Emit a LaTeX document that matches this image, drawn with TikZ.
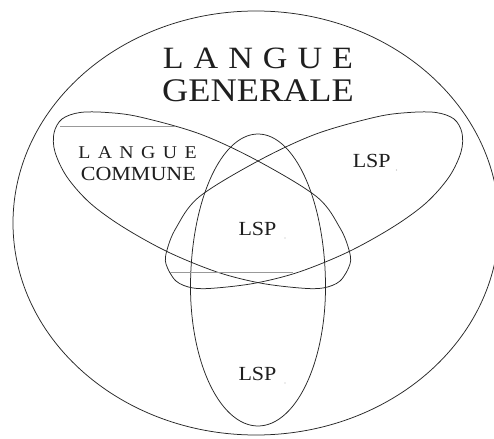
\documentclass[tikz,border=0pt]{standalone}
\usepackage{fontspec}
\setmainfont{Liberation Serif}[FakeStretch=1.1]
\begin{document}
\begin{tikzpicture}[x=1pt,y=-1pt,
  shapeline/.style={line width=0.75pt, draw=black!85},
  chord/.style={line width=0.8pt, draw=black!40},
  lbl/.style={inner sep=0pt, anchor=base, text=black!88},
  speck/.style={fill=black!30}]
\useasboundingbox (0,0) rectangle (494,438);
\fill[white] (0,0) rectangle (494,438);
% outer ellipse (langue generale)
\draw[shapeline] (256,223) ellipse [x radius=243pt, y radius=212pt];
% left ellipse (langue commune)
\draw[shapeline] plot[smooth cycle, tension=0.55] coordinates {
  (54,133) (62,119) (80,112.5) (107,112.5) (140,117) (200,134) (258,161)
  (317,197) (340,228) (349,250) (350,264) (340,281) (323,288) (300,288)
  (260,283) (217,272) (168,252) (123,227) (90,203) (67,177) (55,152)};
% right ellipse (mirror)
\begin{scope}[shift={(516,0)}, xscale=-1]
\draw[shapeline] plot[smooth cycle, tension=0.55] coordinates {
  (54,133) (62,119) (80,112.5) (107,112.5) (140,117) (200,134) (258,161)
  (317,197) (340,228) (349,250) (350,264) (340,281) (323,288) (300,288)
  (260,283) (217,272) (168,252) (123,227) (90,203) (67,177) (55,152)};
\end{scope}
% vertical egg
\draw[shapeline] plot[variable=\t, domain=0:357, samples=120, smooth cycle]
  ({258+67.5*cos(\t)}, {287-ifthenelse(sin(\t)>0,153,139)*sin(\t)});
% grey chords
\coordinate (c1a) at (60,126.5); \coordinate (c1b) at (175,126.5);
\coordinate (c2a) at (170,272.5); \coordinate (c2b) at (293,272.5);
\draw[chord] (c1a) -- (c1b);
\draw[chord] (c2a) -- (c2b);
% texts
\node[lbl, font=\fontsize{31}{31}\selectfont] (lg1) at (258,68.3)
  {L\kern10pt A\kern10pt N\kern10pt G\kern10pt U\kern10pt E};
\node[lbl, font=\fontsize{33}{33}\selectfont] (lg2) at (258,101.7) {GENERALE};
\node[lbl, font=\fontsize{18}{18}\selectfont] (lc1) at (137.5,158.3)
  {L\kern7.4pt A\kern7.4pt N\kern7.4pt G\kern7.4pt U\kern7.4pt E};
\node[lbl, font=\fontsize{20}{20}\selectfont] (lc2) at (138.3,180) {COMMUNE};
\node[lbl, font=\fontsize{20}{20}\selectfont] (lspr) at (371.7,167.3) {LSP};
\node[lbl, font=\fontsize{20}{20}\selectfont] (lspc) at (257.5,235) {LSP};
\node[lbl, font=\fontsize{20}{20}\selectfont] (lspb) at (257.5,380) {LSP};
\fill[speck] (396.5,170) circle (0.6pt);
\fill[speck] (285,238) circle (0.6pt);
\fill[speck] (285,383) circle (0.6pt);
\end{tikzpicture}
\end{document}
